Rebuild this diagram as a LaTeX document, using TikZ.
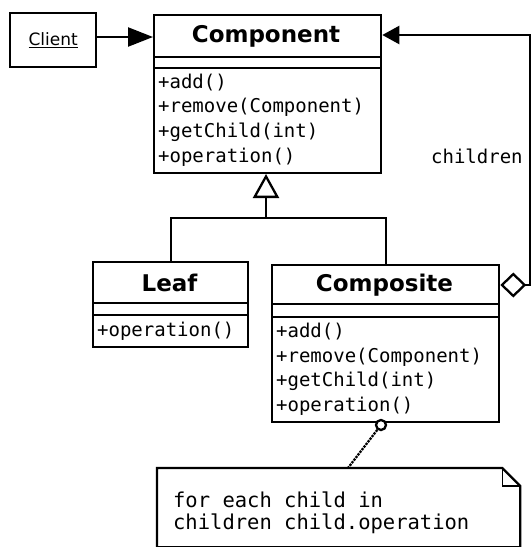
\documentclass[tikz,border=0pt]{standalone}
\usepackage{fontspec}
\setsansfont{DejaVu Sans}
\setmonofont{DejaVu Sans Mono}
\usetikzlibrary{arrows.meta}

\begin{document}
\begin{tikzpicture}[x=1pt,y=-1pt,line width=2.3pt,
  umlbox/.style={draw,rectangle,anchor=north west,inner sep=0pt,fill=white},
  head/.style={inner sep=0pt,font=\sffamily\bfseries\fontsize{23}{26}\selectfont},
  meth/.style={anchor=west,inner sep=0pt,font=\ttfamily\fontsize{19}{22}\selectfont},
  notetext/.style={anchor=west,inner sep=0pt,font=\ttfamily\fontsize{20.5}{24}\selectfont},
]
\useasboundingbox (0,0) rectangle (532,547);

% Client
\node[umlbox,minimum width=86pt,minimum height=54pt] (client) at (9,12) {};
\node[inner sep=0pt,font=\sffamily\fontsize{17}{19}\selectfont] (clientlbl) at (client.center) {\underline{Client}};

% Component
\node[umlbox,minimum width=227pt,minimum height=158pt] (comp) at (153,14) {};
\draw (153,57) -- (380,57);
\draw (153,68) -- (380,68);
\node[head] (comptitle) at (266,36) {Component};
\node[meth] (cm1) at (157,83) {+add()};
\node[meth] (cm2) at (157,107) {+remove(Component)};
\node[meth] (cm3) at (157,132) {+getChild(int)};
\node[meth] (cm4) at (157,157) {+operation()};

% Leaf
\node[umlbox,minimum width=155pt,minimum height=85pt] (leaf) at (92,261) {};
\draw (92,303) -- (247,303);
\draw (92,315) -- (247,315);
\node[head] (leaftitle) at (169.5,283) {Leaf};
\node[meth] (lm1) at (96,331) {+operation()};

% Composite
\node[umlbox,minimum width=227pt,minimum height=157pt] (compo) at (271,264) {};
\draw (271,304) -- (498,304);
\draw (271,317) -- (498,317);
\node[head] (compotitle) at (384.5,285) {Composite};
\node[meth] (pm1) at (275,332) {+add()};
\node[meth] (pm2) at (275,357) {+remove(Component)};
\node[meth] (pm3) at (275,381) {+getChild(int)};
\node[meth] (pm4) at (275,406) {+operation()};

% Client uses Component
\draw[-{Triangle[length=25pt,width=19pt]}] (client.east |- 0,37) -- (comp.west |- 0,37);

% Generalisation
\coordinate (junction) at (266,218);
\coordinate (gentip) at (266,174);
\draw (leaf.north) |- (junction);
\draw (compo.north) |- (junction);
\draw[-{Triangle[open,length=24pt,width=26pt]}] (junction) -- (gentip);

% Aggregation: children
\coordinate (aggA) at (530,285);
\coordinate (aggB) at (530,35);
\draw[{Diamond[open,length=26pt,width=25pt]}-{Triangle[length=17pt,width=18pt]}]
  (compo.east |- aggA) -- (aggA) -- (aggB) -- (comp.east |- aggB);
\node[inner sep=0pt,anchor=west,font=\ttfamily\fontsize{19}{22}\selectfont] (childlbl) at (430,156) {children};

% Note
\node[inner sep=0pt,anchor=north west,minimum width=361pt,minimum height=77pt] (note) at (157,468) {};
\draw[fill=white] (note.north west) -- ([xshift=-18pt]note.north east) -- ([yshift=-18pt]note.north east)
  -- (note.south east) -- (note.south west) -- cycle;
\draw[line width=1.5pt] ([xshift=-18pt]note.north east) -- ([xshift=-18pt,yshift=-18pt]note.north east) -- ([yshift=-18pt]note.north east);
\node[notetext] (noteA) at (172,500) {for each child in};
\node[notetext] (noteB) at (172,524) {children child.operation};

\node[circle,draw,fill=white,minimum size=10pt,inner sep=0pt] (knob) at (381,425) {};
\draw[densely dotted] (knob) -- (note.north -| 348,0);
\end{tikzpicture}
\end{document}
